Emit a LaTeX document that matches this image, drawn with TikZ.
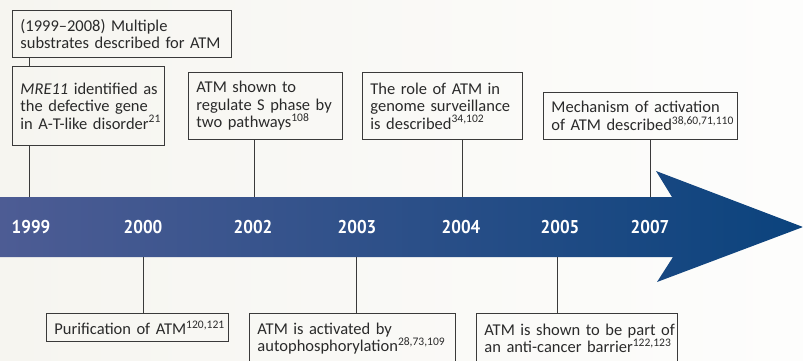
\documentclass[tikz,border=0pt]{standalone}
\usepackage{fontspec}
\setmainfont{Carlito}
\newfontfamily\yearfont[FakeStretch=0.92]{PT Sans}
\usetikzlibrary{positioning}
\definecolor{bgL}{HTML}{F6F5F0}
\definecolor{bgR}{HTML}{FDFDFC}
\definecolor{bandL}{HTML}{4D5C94}
\definecolor{bandR}{HTML}{0B437D}
\definecolor{txt}{HTML}{2A2A2A}
\definecolor{edge}{HTML}{3A3A3A}
\newcommand{\myline}[1]{\mbox{#1}}
\begin{document}
\begin{tikzpicture}[x=1pt,y=-1pt,
  evbox/.style={draw=edge, line width=0.9pt, anchor=north west, align=left,
    inner xsep=8pt, inner ysep=0pt, text=txt, font=\fontsize{16.5}{17.5}\selectfont},
  yearlbl/.style={text=white, font=\yearfont\bfseries\fontsize{18.5}{18.5}\selectfont, inner sep=0pt},
  link/.style={draw=edge, line width=0.8pt}]
\useasboundingbox (0,0) rectangle (803,360);
\clip (0,0) rectangle (803,360);
\shade[left color=bgL, right color=bgR] (0,0) rectangle (803,360);
% arrow
\shade[left color=bandL, right color=bandR]
  (0,197) -- (672,197) -- (656,171) -- (803,227) -- (657,282) -- (673,257) -- (0,257) -- cycle;
% band anchor points
\coordinate (t1999) at (29,197);
\coordinate (t2002) at (254,197);
\coordinate (t2004) at (462,197);
\coordinate (t2007) at (650,197);
\coordinate (b2000) at (143,257);
\coordinate (b2003) at (356,257);
\coordinate (b2005) at (557,257);
% years
\node[yearlbl] (y1999) at (31,227) {1999};
\node[yearlbl] (y2000) at (143,227) {2000};
\node[yearlbl] (y2002) at (253,227) {2002};
\node[yearlbl] (y2003) at (357,227) {2003};
\node[yearlbl] (y2004) at (461,227) {2004};
\node[yearlbl] (y2005) at (560,227) {2005};
\node[yearlbl] (y2007) at (650,227) {2007};
% boxes above
\node[evbox, minimum width=219pt, minimum height=47pt, text width=203pt] (bA) at (12,10)
  {\myline{(1999--2008) Multiple}\\\myline{substrates described for ATM}};
\node[evbox, minimum width=152pt, minimum height=79pt, text width=136pt] (bB) at (12,66)
  {\myline{\textit{MRE11} identified as}\\\myline{the defective gene}\\\myline{in A-T-like disorder\textsuperscript{21}}};
\node[evbox, minimum width=154pt, minimum height=67pt, text width=138pt] (bC) at (188,72)
  {\myline{ATM shown to}\\\myline{regulate S phase by}\\\myline{two pathways\textsuperscript{108}}};
\node[evbox, minimum width=160pt, minimum height=67pt, text width=144pt] (bD) at (362,72)
  {\myline{The role of ATM in}\\\myline{genome surveillance}\\\myline{is described\textsuperscript{34,102}}};
\node[evbox, minimum width=194pt, minimum height=47pt, text width=178pt] (bE) at (543,92)
  {\myline{Mechanism of activation}\\\myline{of ATM described\textsuperscript{38,60,71,110}}};
% boxes below
\node[evbox, minimum width=182pt, minimum height=28pt, text width=166pt] (bF) at (46,313)
  {\myline{Purification of ATM\textsuperscript{120,121}}};
\node[evbox, minimum width=206pt, minimum height=50pt, text width=190pt] (bG) at (249,313)
  {\myline{ATM is activated by}\\\myline{autophosphorylation\textsuperscript{28,73,109}}};
\node[evbox, minimum width=201pt, minimum height=50pt, text width=185pt] (bH) at (476,313)
  {\myline{ATM is shown to be part of}\\\myline{an anti-cancer barrier\textsuperscript{122,123}}};
% connectors
\draw[link] (bA.south -| t1999) -- (bB.north -| t1999);
\draw[link] (bB.south -| t1999) -- (t1999);
\draw[link] (bC.south -| t2002) -- (t2002);
\draw[link] (bD.south -| t2004) -- (t2004);
\draw[link] (bE.south -| t2007) -- (t2007);
\draw[link] (b2000) -- (bF.north -| b2000);
\draw[link] (b2003) -- (bG.north -| b2003);
\draw[link] (b2005) -- (bH.north -| b2005);
\end{tikzpicture}
\end{document}
